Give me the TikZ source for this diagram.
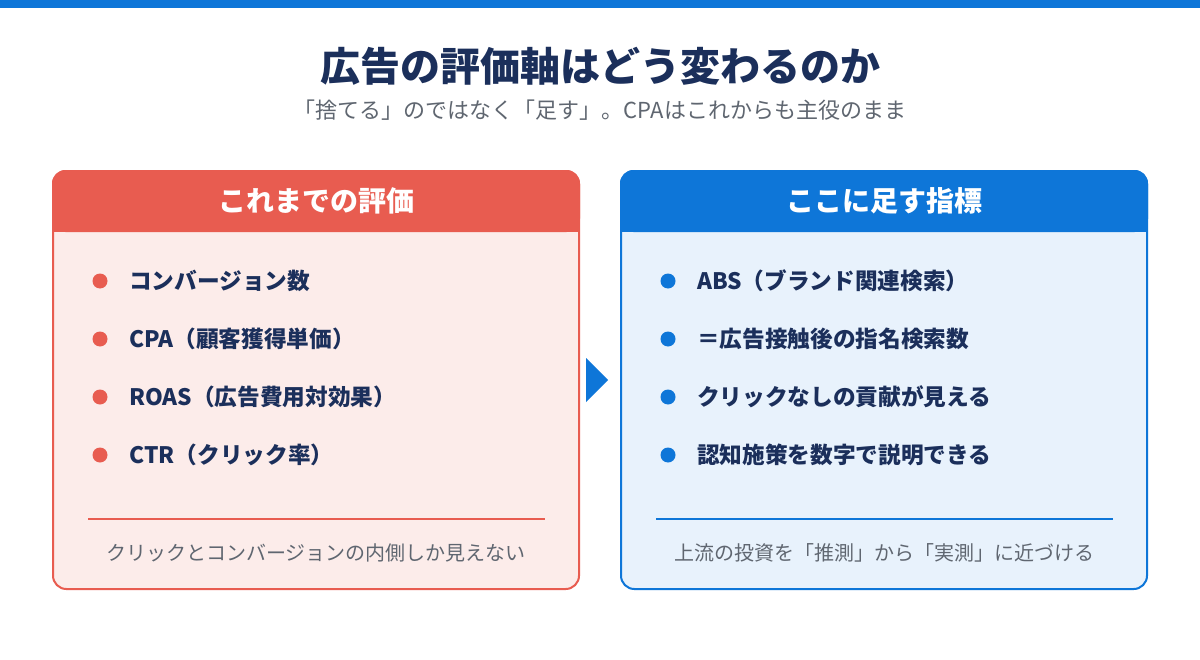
\documentclass[tikz,border=0pt]{standalone}
\usepackage{fontspec}
\setmainfont{Noto Sans CJK JP}
\definecolor{navy}{HTML}{1B2F5B}
\definecolor{gry}{HTML}{5F6670}
\definecolor{redc}{HTML}{E85C50}
\definecolor{redf}{HTML}{FCECEA}
\definecolor{bluc}{HTML}{0E76D8}
\definecolor{bluf}{HTML}{E8F2FC}
\begin{document}
\begin{tikzpicture}[x=0.75pt,y=-0.75pt,
  item/.style={anchor=west,font=\bfseries\fontsize{17}{20}\selectfont,text=navy,inner sep=0},
  foot/.style={font=\fontsize{15}{18}\selectfont,text=gry},
  head/.style={font=\bfseries\fontsize{21}{24}\selectfont,text=white}]
\useasboundingbox (0,0) rectangle (1200,660);
\fill[white] (0,0) rectangle (1200,660);
\fill[bluc] (0,0) rectangle (1200,8);
\node[font=\bfseries\fontsize{30}{34}\selectfont,text=navy] (title) at (600,66) {広告の評価軸はどう変わるのか};
\node[font=\fontsize{16.5}{19}\selectfont,text=gry] (sub) at (600,110) {「捨てる」のではなく「足す」。CPAはこれからも主役のまま};
% left card
\draw[redc,line width=1.5pt,fill=redf,rounded corners=10pt] (53,171) rectangle (579,589);
\fill[redc,rounded corners=10pt] (52,170) rectangle (580,232);
\fill[redc] (52,215) rectangle (580,232);
\node[head] (lh) at (316,201) {これまでの評価};
\foreach \y/\t [count=\i] in {281/コンバージョン数,339/CPA（顧客獲得単価）,397/ROAS（広告費用対効果）,455/CTR（クリック率）}{
  \fill[redc] (100,\y) circle (7.5);
  \node[item] (l\i) at (129,\y) {\t};}
\draw[redc,line width=1pt] (88,519) -- (545,519);
\node[foot] (lf) at (316,553) {クリックとコンバージョンの内側しか見えない};
% arrow
\fill[bluc] (586,358) -- (608,380) -- (586,402) -- cycle;
% right card
\draw[bluc,line width=1.5pt,fill=bluf,rounded corners=10pt] (621,171) rectangle (1147,589);
\fill[bluc,rounded corners=10pt] (620,170) rectangle (1148,232);
\fill[bluc] (620,215) rectangle (1148,232);
\node[head] (rh) at (884,201) {ここに足す指標};
\foreach \y/\t [count=\i] in {281/ABS（ブランド関連検索）,339/＝広告接触後の指名検索数,397/クリックなしの貢献が見える,455/認知施策を数字で説明できる}{
  \fill[bluc] (668,\y) circle (7.5);
  \node[item] (r\i) at (697,\y) {\t};}
\draw[bluc,line width=1pt] (656,519) -- (1113,519);
\node[foot] (rf) at (884,553) {上流の投資を「推測」から「実測」に近づける};
\end{tikzpicture}
\end{document}
